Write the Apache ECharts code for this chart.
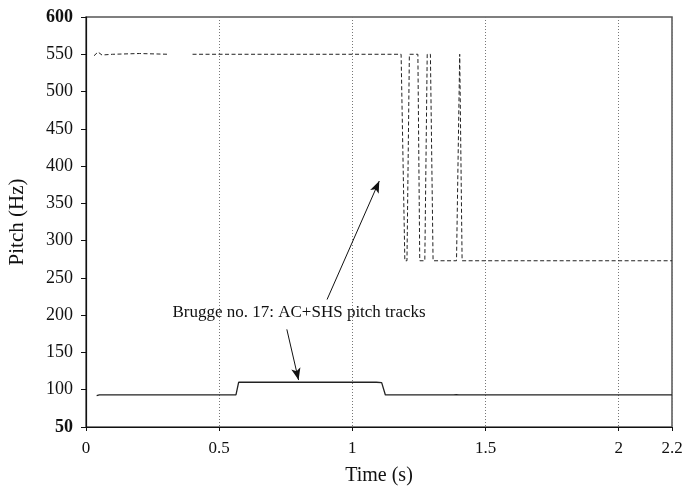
<!DOCTYPE html>
<html>
<head>
<meta charset="utf-8">
<script src="https://cdn.jsdelivr.net/npm/echarts@6/dist/echarts.min.js"></script>
<style>
  html, body { margin: 0; padding: 0; background: #fff; }
  #chart { width: 685px; height: 490px; }
</style>
</head>
<body>
<div id="chart"></div>
<script>
// dashed pitch track (time in s, pitch in Hz); null = unvoiced gap
const dashTime = [0.03, 0.045, 0.06, 0.10, 0.20, 0.31, 0.35, 0.40, 1.183, 1.197, 1.205, 1.214, 1.246, 1.253, 1.272, 1.281, 1.293, 1.303, 1.391, 1.403, 1.412, 2.2];
const dashPitch = [548, 553, 549, 550, 551, 550, null, 550, 550, 273, 273, 550, 550, 273, 273, 550, 550, 273, 273, 550, 273, 273];

// solid pitch track
const solidTime = [0.04, 0.05, 0.563, 0.573, 1.09, 1.11, 1.114, 1.124, 1.38, 1.39, 1.40, 2.2];
const solidPitch = [92, 93, 93, 110, 110, 109.5, 109, 93, 93, 93.5, 93, 93];

const xTicks = [0, 0.5, 1, 1.5, 2, 2.2];
const yTicks = [50, 100, 150, 200, 250, 300, 350, 400, 450, 500, 550, 600];

// annotation: label and arrows in data units
const noteText = 'Brugge no. 17: AC+SHS pitch tracks';
const notePos = [0.80, 203];
const arrowUp = [[0.905, 221], [1.101, 380]];
const arrowDown = [[0.754, 181], [0.798, 113]];

const font = '"Liberation Serif", "Times New Roman", serif';
const pairs = (xs, ys) => xs.map((x, i) => [x, ys[i]]);

const chart = echarts.init(document.getElementById('chart'));

chart.setOption({
  animation: false,
  grid: {
    left: 86, right: 13, top: 17, bottom: 63,
    outerBoundsMode: 'none', containLabel: false,
    show: true, borderColor: '#555', borderWidth: 1.5
  },
  xAxis: {
    type: 'value',
    min: xTicks[0], max: xTicks[xTicks.length - 1], interval: 0.5,
    name: 'Time (s)', nameLocation: 'middle', nameGap: 39,
    nameTextStyle: { fontFamily: font, fontSize: 20, color: '#111' },
    axisLine: { lineStyle: { color: '#111', width: 1.2 } },
    axisTick: { show: true, length: 4, lineStyle: { color: '#111' } },
    axisLabel: { fontFamily: font, fontSize: 17, color: '#111', margin: 13 },
    splitLine: { show: true, lineStyle: { color: '#777', type: [1, 2], width: 1 } }
  },
  yAxis: {
    type: 'value',
    min: yTicks[0], max: yTicks[yTicks.length - 1], interval: 50,
    name: 'Pitch (Hz)', nameLocation: 'middle', nameGap: 58,
    nameTextStyle: { fontFamily: font, fontSize: 21, color: '#111' },
    axisLine: { show: true, lineStyle: { color: '#111', width: 1.2 } },
    axisTick: { show: true, length: 5, lineStyle: { color: '#111' } },
    axisLabel: {
      fontFamily: font, fontSize: 18, color: '#111', margin: 13,
      formatter: v => (v === 50 || v === 600) ? '{b|' + v + '}' : String(v),
      rich: { b: { fontFamily: font, fontSize: 18, fontWeight: 'bold', color: '#111' } }
    },
    splitLine: { show: false }
  },
  series: [
    {
      type: 'line',
      data: pairs(dashTime, dashPitch),
      showSymbol: false,
      connectNulls: false,
      lineStyle: { color: '#222', width: 1, type: [4, 2.5] },
      emphasis: { disabled: true }
    },
    {
      type: 'line',
      data: pairs(solidTime, solidPitch),
      showSymbol: false,
      lineStyle: { color: '#222', width: 1.3 },
      emphasis: { disabled: true },
      markLine: {
        silent: true,
        symbol: ['none', 'arrow'],
        symbolSize: [7, 12],
        label: { show: false },
        lineStyle: { color: '#111', width: 1, type: 'solid' },
        data: [
          [{ coord: arrowUp[0] }, { coord: arrowUp[1] }],
          [{ coord: arrowDown[0] }, { coord: arrowDown[1] }]
        ]
      },
      markPoint: {
        silent: true,
        symbol: 'circle',
        symbolSize: 0,
        label: {
          show: true, position: 'inside',
          formatter: noteText,
          fontFamily: font, fontSize: 17, color: '#111'
        },
        data: [{ coord: notePos }]
      }
    }
  ]
});
</script>
</body>
</html>
